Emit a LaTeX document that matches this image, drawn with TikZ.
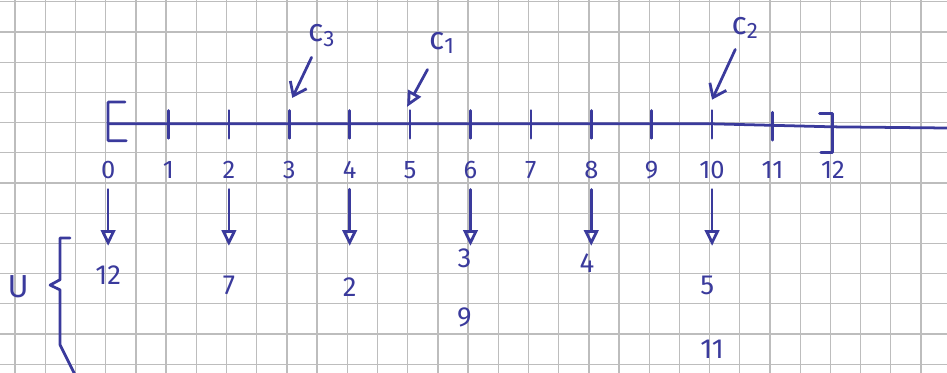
\documentclass[tikz,border=0pt]{standalone}
\usepackage{fontspec}
\setmainfont{Fira Sans}
\usetikzlibrary{arrows.meta,positioning}
\definecolor{inkblue}{HTML}{3A3A9C}
\definecolor{papergrid}{HTML}{BDBDBD}

\begin{document}
\begin{tikzpicture}[
  ink/.style={draw=inkblue,line width=1.3pt,line cap=round,line join=round},
  axisdigit/.style={text=inkblue,font=\fontsize{12}{14}\selectfont,inner sep=1pt},
  digit/.style={text=inkblue,font=\fontsize{13}{15}\selectfont,inner sep=1pt},
  cname/.style={text=inkblue,font=\fontsize{15}{17}\selectfont,inner sep=1pt},
  downarr/.style={ink,-{Triangle[open,length=2.6mm,width=2.4mm]}},
  pick/.style={ink,-{Straight Barb[length=2mm,width=3mm]}},
  pickopen/.style={ink,-{Triangle[open,length=2.6mm,width=2.4mm]}}
]
\useasboundingbox (-1.79,-4.12) rectangle (13.89,2.05);

% Paper grid
\begin{scope}
  \clip (-1.79,-4.12) rectangle (13.89,2.05);
  \draw[papergrid,line width=0.6pt,shift={(-0.04,0.02)}] (-2,-4.5) grid[step=0.5] (14.5,2.5);
\end{scope}

% Axis
\foreach \i in {0,...,10} \coordinate (t\i) at (\i,0);
\coordinate (t11) at (11,-0.03);
\coordinate (t12) at (12,-0.05);
\coordinate (axend) at (13.95,-0.07);
\draw[ink] (t0) -- (t10) -- (t12) -- (axend);
\foreach \i in {1,...,11} \draw[ink] ([yshift=0.22cm]t\i) -- ([yshift=-0.24cm]t\i);

% Brackets
\draw[ink] ([shift={(0.28,0.36)}]t0) -- ([yshift=0.36cm]t0) -- ([yshift=-0.28cm]t0) -- ([shift={(0.3,-0.28)}]t0);
\draw[ink] ([shift={(-0.22,0.22)}]t12) -- ([yshift=0.22cm]t12) -- ([yshift=-0.43cm]t12) -- ([shift={(-0.2,-0.43)}]t12);

% Axis labels
\foreach \i in {0,...,12} \node[axisdigit] (n\i) at (\i,-0.76) {\i};

% Centres
\node[cname] (c3) at (3.54,1.46) {c\textsubscript{3}};
\node[cname] (c1) at (5.53,1.34) {c\textsubscript{1}};
\node[cname] (c2) at (10.55,1.59) {c\textsubscript{2}};
\coordinate (p3) at (3.05,0.43);
\coordinate (p5) at (4.95,0.28);
\coordinate (p10) at (10.0,0.40);
\draw[pick,shorten <=1.5mm] (c3) -- (p3);
\draw[pickopen,shorten <=2.5mm] (c1) -- (p5);
\draw[pick,shorten <=1.5mm] (c2) -- (p10);

% Down arrows
\foreach \i in {0,2,...,10} {
  \coordinate (e\i) at (\i,-2.02);
  \draw[downarr,shorten <=1.4mm] (n\i) -- (e\i);
}

% Values of U
\node[digit] (v0) at (0,-2.5) {12};
\node[digit] (v2) at (2,-2.68) {7};
\node[digit] (v4) at (4,-2.70) {2};
\node[digit] (v6a) at (5.9,-2.22) {3};
\node[digit] (v6b) at (5.9,-3.21) {9};
\node[digit] (v8) at (7.93,-2.30) {4};
\node[digit] (v10a) at (9.92,-2.67) {5};
\node[digit] (v10b) at (10.0,-3.74) {11};

% U with brace
\node[cname] (u) at (-1.49,-2.70) {U};
\draw[ink] (-0.63,-1.89) -- (-0.795,-1.89) -- (-0.795,-2.58) -- (-0.96,-2.67) -- (-0.795,-2.75) -- (-0.795,-3.66) -- (-0.55,-4.15);

\end{tikzpicture}
\end{document}
